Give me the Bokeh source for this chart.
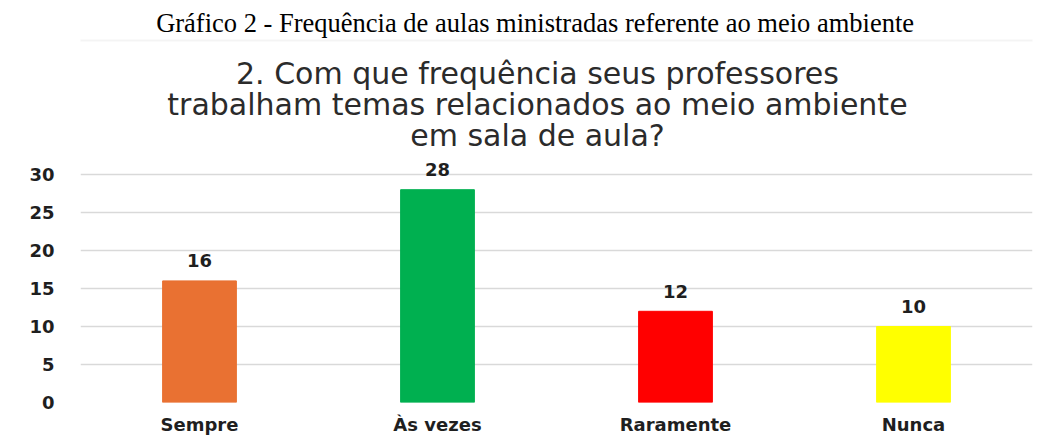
from bokeh.plotting import figure
from bokeh.models import Range1d, FactorRange, FixedTicker, BoxAnnotation, ColumnDataSource
from bokeh.core.properties import value
from bokeh.embed import file_html
from bokeh.resources import INLINE

caption = "Gráfico 2 - Frequência de aulas ministradas referente ao meio ambiente"
title_lines = ["2. Com que frequência seus professores",
               "trabalham temas relacionados ao meio ambiente",
               "em sala de aula?"]
categories = ["Sempre", "Às vezes", "Raramente", "Nunca"]
counts = [16, 28, 12, 10]
colors = ["#E97132", "#00B050", "#FF0000", "#FFFF00"]
y_ticks = [0, 5, 10, 15, 20, 25, 30]

W, H = 1050, 440
FRAME_BOTTOM = 402
PX = 7.6  # pixels per unit


def yv(py):
    # page pixel row -> data value (frame spans from canvas top to FRAME_BOTTOM)
    return (FRAME_BOTTOM - py) / PX


p = figure(width=W, height=H, output_backend="svg", toolbar_location=None,
           x_range=FactorRange(*categories), y_range=Range1d(0, FRAME_BOTTOM / PX),
           min_border_left=80, min_border_right=W - 1032, min_border_top=0,
           min_border_bottom=H - FRAME_BOTTOM)
p.outline_line_color = None
p.background_fill_color = "white"
p.border_fill_color = "white"

# chart box border (top edge visible)
p.add_layout(BoxAnnotation(left=10, right=1200, top=40, bottom=1000,
                           left_units="canvas", right_units="canvas",
                           top_units="canvas", bottom_units="canvas",
                           fill_color=None, line_color="#d9d9d9", line_width=2, level="underlay"))

src = ColumnDataSource(dict(cat=categories, n=counts, color=colors,
                            lab=[str(c) for c in counts]))
p.vbar(x="cat", top="n", width=0.31, color="color", source=src)
p.text(x="cat", y="n", text="lab", source=src, text_align="center", text_baseline="middle",
       y_offset=-20, text_font=value("DejaVu Sans"), text_font_style="bold",
       text_font_size="18px", text_color="#1f1f1f")

# caption and chart title (synthetic categorical x: 0..4 across the frame)
p.text(x=[1.91], y=[yv(22)], text=[caption],
       text_align="center", text_baseline="alphabetic", text_font=value("Liberation Serif"),
       text_font_size="26.5px", text_color="#000000")
p.text(x=[1.92] * 3, y=[yv(73), yv(104), yv(135)], text=title_lines,
       text_align="center", text_baseline="alphabetic",
       text_font=value("DejaVu Sans"), text_font_size="30px", text_color="#2b2b2b")

p.ygrid.ticker = FixedTicker(ticks=y_ticks)
p.ygrid.grid_line_color = "#d9d9d9"
p.ygrid.grid_line_width = 1.5
p.xgrid.grid_line_color = None
p.yaxis.ticker = FixedTicker(ticks=y_ticks)
for ax in (p.xaxis[0], p.yaxis[0]):
    ax.axis_line_color = None
    ax.major_tick_line_color = None
    ax.minor_tick_line_color = None
    ax.major_label_text_font = "DejaVu Sans"
    ax.major_label_text_font_style = "bold"
    ax.major_label_text_font_size = "18px"
    ax.major_label_text_color = "#1f1f1f"
p.yaxis.major_label_standoff = 20
p.xaxis.major_label_standoff = 5

open("out.html", "w").write(file_html(p, INLINE))
